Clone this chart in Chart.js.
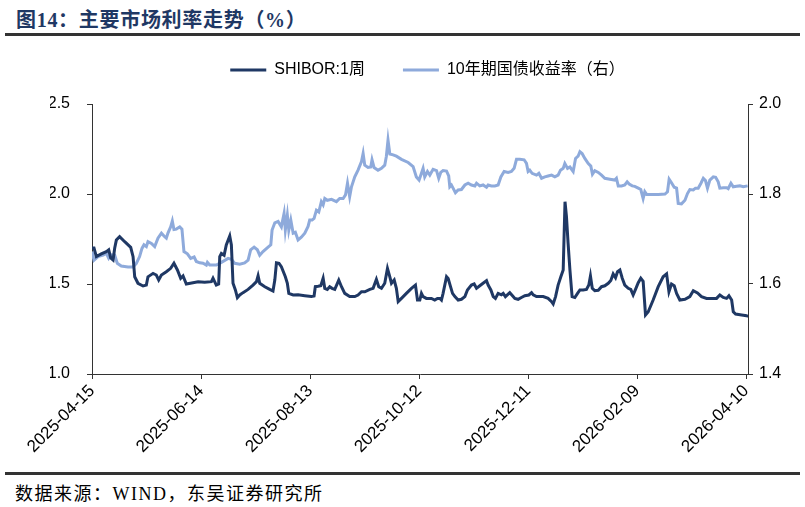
<!DOCTYPE html>
<html lang="zh-CN">
<head>
<meta charset="UTF-8">
<title>主要市场利率走势</title>
<script src="https://cdn.jsdelivr.net/npm/chart.js"></script>
<style>
    body { margin: 0; width: 805px; height: 507px; background: #fff; position: relative; overflow: hidden; }
    .titulo { position: absolute; left: 16px; top: 4px; font: bold 20px 'Liberation Serif', 'Noto Sans CJK SC', serif; letter-spacing: 0.7px; color: #1f3864; }
    .linha { position: absolute; left: 5px; width: 795px; height: 3px; background: #333; }
    .fonte { position: absolute; left: 15px; top: 479px; font: 18px 'Liberation Serif', 'Noto Sans CJK SC', serif; letter-spacing: 1.5px; color: #000; }
    .grafico { position: absolute; left: 0; top: 24px; width: 805px; height: 446px; }
</style>
</head>
<body>
<div class="titulo">图14：主要市场利率走势（%）</div>
<div class="linha" style="top:33px"></div>
<div class="grafico"><canvas id="chart"></canvas></div>
<div class="linha" style="top:472px"></div>
<div class="fonte">数据来源：WIND，东吴证券研究所</div>
<script>
    // days counted from 2025-04-15
    const xTickDays = [0, 60, 120, 180, 240, 300, 360];
    const xTickLabels = ['2025-04-15', '2025-06-14', '2025-08-13', '2025-10-12', '2025-12-11', '2026-02-09', '2026-04-10'];

    const shiborDays = [0, 1.1, 2.4, 5.1, 7.9, 9.2, 10.3, 11.6, 12.5, 13.4, 15.2, 18.0, 21.3, 22.6, 23.5, 25.3, 28.1, 29.9, 30.8, 33.6,
        35.4, 36.7, 38.2, 40.9, 43.3, 45.1, 47.0, 48.8, 50.1, 51.9, 58.4, 62.0, 65.7, 66.6, 68.4, 69.7, 70.3, 71.2, 72.7, 73.9,
        75.8, 76.7, 77.6, 78.9, 80.0, 81.3, 83.1, 85.9, 88.6, 90.5, 91.4, 92.3, 95.1, 97.8, 99.6, 100.6, 101.5, 102.9, 104.2, 106.4,
        107.5, 108.3, 110.7, 113.4, 117.1, 120.7, 122.2, 122.9, 124.4, 125.9, 127.2, 128.1, 129.5, 130.8, 132.1, 133.6, 135.8, 137.3, 139.1, 141.8,
        144.6, 146.4, 148.3, 150.1, 152.9, 154.7, 156.5, 157.8, 159.3, 161.1, 162.6, 163.9, 164.8, 166.3, 167.5, 168.5, 170.3, 173.0, 175.8, 178.0,
        179.1, 180.4, 181.3, 182.2, 184.0, 186.8, 188.6, 190.1, 191.4, 192.3, 193.2, 195.1, 196.0, 197.3, 198.4, 199.7, 201.5, 203.3, 205.2, 206.6,
        208.8, 210.3, 211.6, 213.4, 215.2, 217.1, 218.0, 219.5, 220.8, 222.0, 223.5, 225.3, 226.3, 227.5, 229.9, 231.4, 232.7, 234.5, 236.3, 238.2,
        240.4, 241.9, 242.8, 244.6, 248.3, 251.0, 252.9, 253.8, 255.1, 256.5, 258.0, 259.3, 260.3, 261.1, 262.0, 263.0, 264.2, 265.7, 267.2, 268.5,
        270.3, 272.1, 273.4, 274.3, 275.3, 276.7, 278.6, 280.4, 282.2, 284.1, 285.5, 286.8, 288.1, 289.2, 290.5, 291.8, 293.2, 295.1, 296.5, 297.8,
        299.1, 300.6, 302.0, 303.3, 304.6, 306.1, 308.8, 311.6, 314.3, 316.2, 317.5, 318.9, 320.4, 321.7, 323.5, 326.3, 329.0, 330.9, 333.2, 335.4,
        338.2, 340.9, 343.7, 345.5, 347.4, 349.2, 350.5, 352.0, 352.9, 354.2, 357.5, 360.2, 361.1];
    const shiborValues = [1.70, 1.70, 1.652, 1.667, 1.68, 1.69, 1.645, 1.633, 1.70, 1.744, 1.763, 1.735, 1.704, 1.652, 1.54, 1.504, 1.489, 1.494, 1.54, 1.559,
        1.55, 1.522, 1.55, 1.568, 1.587, 1.615, 1.578, 1.532, 1.545, 1.50, 1.513, 1.51, 1.513, 1.532, 1.494, 1.50, 1.652, 1.67, 1.66, 1.717,
        1.767, 1.717, 1.504, 1.467, 1.424, 1.439, 1.452, 1.47, 1.494, 1.513, 1.546, 1.504, 1.485, 1.47, 1.461, 1.522, 1.618, 1.615, 1.596, 1.54,
        1.504, 1.448, 1.439, 1.44, 1.435, 1.43, 1.433, 1.485, 1.487, 1.49, 1.532, 1.476, 1.47, 1.485, 1.476, 1.47, 1.522, 1.485, 1.448, 1.43,
        1.43, 1.439, 1.457, 1.457, 1.47, 1.476, 1.526, 1.485, 1.476, 1.504, 1.587, 1.54, 1.504, 1.522, 1.476, 1.402, 1.42, 1.448, 1.476, 1.494,
        1.411, 1.411, 1.448, 1.43, 1.42, 1.42, 1.411, 1.42, 1.42, 1.411, 1.448, 1.54, 1.53, 1.485, 1.448, 1.43, 1.411, 1.415, 1.43, 1.467,
        1.494, 1.50, 1.476, 1.49, 1.504, 1.519, 1.494, 1.467, 1.43, 1.42, 1.448, 1.44, 1.448, 1.43, 1.452, 1.435, 1.42, 1.415, 1.425, 1.435,
        1.439, 1.452, 1.44, 1.43, 1.43, 1.42, 1.402, 1.389, 1.43, 1.494, 1.54, 1.578, 1.957, 1.874, 1.726, 1.578, 1.43, 1.425, 1.448, 1.467,
        1.467, 1.47, 1.494, 1.544, 1.476, 1.463, 1.465, 1.485, 1.49, 1.504, 1.52, 1.556, 1.535, 1.568, 1.578, 1.532, 1.494, 1.476, 1.47, 1.439,
        1.47, 1.507, 1.532, 1.515, 1.328, 1.346, 1.411, 1.485, 1.54, 1.556, 1.457, 1.50, 1.49, 1.448, 1.411, 1.415, 1.43, 1.463, 1.45, 1.43,
        1.42, 1.42, 1.42, 1.439, 1.425, 1.42, 1.435, 1.411, 1.346, 1.333, 1.328, 1.324, 1.32];

    const bondDays = [0, 1.1, 3.3, 6.1, 7.9, 9.2, 10.6, 12.5, 13.9, 16.1, 19.8, 22.6, 24.4, 26.2, 27.5, 28.6, 29.9, 30.8, 32.7, 34.5,
        36.3, 38.2, 40.0, 40.9, 41.8, 43.3, 44.2, 45.1, 46.4, 48.3, 49.5, 50.6, 52.5, 54.3, 56.2, 57.4, 59.3, 61.1, 62.9, 63.5,
        64.8, 68.4, 71.2, 74.9, 76.7, 78.5, 81.3, 84.0, 85.9, 87.3, 89.2, 91.0, 92.3, 94.1, 96.9, 98.4, 99.1, 100.6, 102.4, 104.2,
        105.7, 106.4, 107.5, 108.3, 109.4, 110.7, 111.9, 113.4, 115.2, 117.1, 118.9, 119.8, 121.1, 122.2, 123.5, 124.8, 126.2, 127.2, 128.1, 129.5,
        131.8, 134.5, 136.3, 138.2, 139.5, 140.6, 141.8, 142.8, 144.6, 146.4, 148.3, 149.2, 150.1, 151.9, 153.4, 154.1, 155.2, 157.4, 159.3, 161.1,
        162.0, 162.9, 163.9, 165.7, 167.5, 170.3, 174.0, 176.7, 178.5, 180.0, 181.3, 182.2, 183.1, 184.6, 185.9, 187.7, 189.6, 190.8, 191.9, 193.2,
        195.1, 196.3, 196.9, 197.8, 198.7, 200.0, 201.5, 203.3, 205.2, 207.0, 208.8, 210.7, 211.6, 213.4, 215.2, 217.1, 218.0, 219.8, 221.7, 223.5,
        225.0, 226.8, 229.0, 230.8, 232.3, 233.6, 235.4, 237.8, 239.1, 240.0, 240.9, 242.2, 244.6, 245.9, 247.4, 249.2, 251.0, 252.9, 254.7, 256.5,
        257.8, 259.3, 260.2, 261.7, 263.0, 264.8, 266.1, 267.5, 268.5, 269.7, 271.2, 273.0, 274.5, 275.4, 276.7, 278.6, 280.4, 282.2, 285.0, 287.7,
        288.6, 289.6, 291.4, 293.2, 294.5, 295.6, 297.3, 298.7, 300.6, 302.0, 303.3, 304.2, 305.2, 307.9, 311.6, 315.3, 316.7, 317.6, 318.9, 320.4,
        321.7, 322.6, 324.4, 326.3, 327.7, 329.0, 330.9, 332.1, 333.6, 335.1, 336.4, 337.6, 338.7, 340.0, 341.9, 343.2, 344.6, 345.5, 347.4, 349.2,
        350.1, 351.6, 352.9, 354.7, 356.5, 358.4, 360.8];
    const bondValues = [1.672, 1.653, 1.661, 1.664, 1.668, 1.657, 1.665, 1.664, 1.646, 1.64, 1.638, 1.638, 1.646, 1.661, 1.679, 1.687, 1.683, 1.694, 1.69, 1.683,
        1.702, 1.713, 1.705, 1.702, 1.713, 1.727, 1.74, 1.721, 1.722, 1.727, 1.722, 1.672, 1.667, 1.657, 1.66, 1.65, 1.647, 1.646, 1.642, 1.648,
        1.642, 1.642, 1.648, 1.657, 1.655, 1.646, 1.644, 1.647, 1.653, 1.676, 1.682, 1.676, 1.664, 1.672, 1.682, 1.687, 1.72, 1.736, 1.739, 1.727,
        1.757, 1.72, 1.753, 1.72, 1.742, 1.713, 1.715, 1.698, 1.704, 1.713, 1.728, 1.742, 1.742, 1.746, 1.764, 1.76, 1.783, 1.776, 1.79, 1.786,
        1.788, 1.783, 1.79, 1.79, 1.798, 1.824, 1.794, 1.816, 1.838, 1.853, 1.872, 1.89, 1.864, 1.859, 1.86, 1.876, 1.859, 1.853, 1.857, 1.864,
        1.884, 1.92, 1.889, 1.887, 1.884, 1.877, 1.87, 1.861, 1.838, 1.831, 1.846, 1.857, 1.838, 1.85, 1.842, 1.855, 1.852, 1.835, 1.848, 1.852,
        1.851, 1.84, 1.816, 1.82, 1.813, 1.803, 1.809, 1.81, 1.82, 1.824, 1.82, 1.818, 1.824, 1.818, 1.82, 1.815, 1.82, 1.818, 1.818, 1.82,
        1.838, 1.85, 1.848, 1.85, 1.857, 1.877, 1.877, 1.876, 1.868, 1.85, 1.853, 1.846, 1.842, 1.846, 1.835, 1.838, 1.84, 1.842, 1.838, 1.842,
        1.853, 1.857, 1.868, 1.857, 1.86, 1.85, 1.879, 1.884, 1.894, 1.89, 1.879, 1.868, 1.862, 1.844, 1.852, 1.848, 1.842, 1.835, 1.833, 1.831,
        1.835, 1.818, 1.818, 1.82, 1.827, 1.822, 1.818, 1.817, 1.813, 1.81, 1.79, 1.805, 1.799, 1.799, 1.799, 1.80, 1.805, 1.833, 1.825, 1.815,
        1.813, 1.779, 1.778, 1.786, 1.801, 1.81, 1.809, 1.813, 1.813, 1.824, 1.835, 1.83, 1.813, 1.831, 1.838, 1.837, 1.827, 1.813, 1.814, 1.814,
        1.812, 1.824, 1.816, 1.817, 1.818, 1.816, 1.818];

    function toPoints(days, values) {
        return days.map((d, i) => ({ x: d, y: values[i] }));
    }

    // legend needs more room below it than Chart.js gives by default
    const legendSpace = {
        id: 'legendSpace',
        beforeInit(chart) {
            const fit = chart.legend.fit;
            chart.legend.fit = function () {
                fit.call(this);
                this.height = 80;
            };
        }
    };

    const axisColor = '#333';
    Chart.defaults.font.family = "'Liberation Sans', 'Noto Sans CJK SC', sans-serif";
    Chart.defaults.font.size = 16;
    Chart.defaults.color = '#000';

    new Chart(document.getElementById('chart'), {
        type: 'line',
        data: {
            datasets: [
                {
                    label: 'SHIBOR:1周',
                    data: toPoints(shiborDays, shiborValues),
                    borderColor: '#1f3864',
                    backgroundColor: '#1f3864',
                    borderWidth: 3,
                    pointRadius: 0,
                    yAxisID: 'y'
                },
                {
                    label: '10年期国债收益率（右）',
                    data: toPoints(bondDays, bondValues),
                    borderColor: '#8eaadb',
                    backgroundColor: '#8eaadb',
                    borderWidth: 3,
                    pointRadius: 0,
                    yAxisID: 'y1'
                }
            ]
        },
        options: {
            responsive: true,
            maintainAspectRatio: false,
            animation: false,
            layout: { padding: { left: 50, right: 0, top: 0, bottom: 0 } },
            plugins: {
                legend: {
                    position: 'top',
                    labels: {
                        usePointStyle: true,
                        pointStyle: 'line',
                        pointStyleWidth: 36,
                        padding: 38,
                        color: '#000',
                        font: { size: 16 }
                    }
                },
                tooltip: { enabled: false }
            },
            scales: {
                x: {
                    type: 'linear',
                    min: 0,
                    max: 361,
                    afterBuildTicks: scale => { scale.ticks = xTickDays.map(v => ({ value: v })); },
                    afterFit: scale => { scale.height = 96; },
                    ticks: {
                        autoSkip: false,
                        minRotation: 45,
                        maxRotation: 45,
                        padding: 2,
                        font: { size: 17 },
                        callback: value => {
                            const i = xTickDays.indexOf(value);
                            return i >= 0 ? xTickLabels[i] : '';
                        }
                    },
                    grid: { drawOnChartArea: false, color: axisColor, tickLength: 5 },
                    border: { color: axisColor, width: 1 }
                },
                y: {
                    position: 'left',
                    min: 1.0,
                    max: 2.5,
                    afterFit: scale => { scale.width = 42; },
                    ticks: { stepSize: 0.5, padding: 17, callback: v => v.toFixed(1) },
                    grid: { drawOnChartArea: false, color: axisColor, tickLength: 5 },
                    border: { color: axisColor, width: 1 }
                },
                y1: {
                    position: 'right',
                    min: 1.4,
                    max: 2.0,
                    afterFit: scale => { scale.width = 57; },
                    ticks: { stepSize: 0.2, padding: 6, callback: v => v.toFixed(1) },
                    grid: { drawOnChartArea: false, color: axisColor, tickLength: 5 },
                    border: { color: axisColor, width: 1 }
                }
            }
        },
        plugins: [legendSpace]
    });
</script>
</body>
</html>
